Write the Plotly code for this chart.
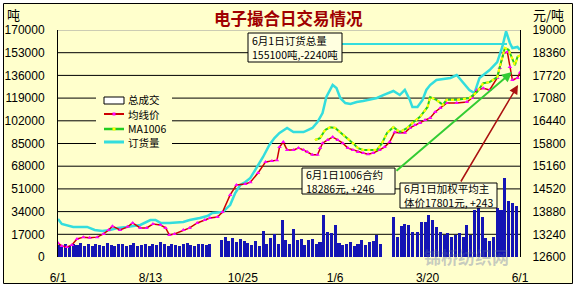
import plotly.graph_objects as go

# ---------------- data ----------------
# x positions are calendar-day offsets from 2009-06-01
x_tick_days = [0, 73, 146, 219, 292, 365]
x_tick_text = ["6/1", "8/13", "10/25", "1/6", "3/20", "6/1"]

left_ticks = [0, 17000, 34000, 51000, 68000, 85000, 102000, 119000, 136000, 153000, 170000]
right_ticks = [12600, 13240, 13880, 14520, 15160, 15800, 16440, 17080, 17720, 18360, 19000]

legend_labels = ["总成交", "均线价", "MA1006", "订货量"]

# 订货量 (tons, left axis)
orders_day = [0, 3, 12, 23, 29, 35, 41, 47, 54, 65,
              73, 77, 81, 88, 99, 104, 112, 118, 122, 130,
              136, 140, 144, 148, 152, 157, 162, 167, 171, 175,
              181, 186, 194, 201, 205, 209, 212, 217, 220, 223,
              227, 231, 236, 241, 246, 252, 257, 261, 265, 270,
              274, 278, 280, 284, 288, 291, 294, 299, 304, 310,
              315, 320, 325, 329, 333, 337, 341, 347, 351, 354,
              357, 359, 363, 365]
orders = [28500, 24700, 22500, 22500, 20200, 19500, 20200, 21700, 22500, 24000,
          27700, 27700, 25500, 25500, 26200, 27700, 29200, 30700, 33000, 33700,
          38900, 47900, 53900, 56200, 59200, 66700, 74900, 83900, 89100, 92900,
          96600, 93600, 93600, 96600, 101100, 107800, 119800, 128800, 126600, 119100,
          115300, 114600, 116100, 116800, 117600, 119100, 121300, 122800, 124300, 121300,
          125100, 117600, 112300, 112300, 117600, 125100, 128800, 132600, 133300, 134100,
          136300, 131100, 125100, 122800, 134100, 137000, 140000, 146000, 157300, 169000,
          160300, 156500, 157300, 155100]

# 均线价 (yuan/ton, right axis)
price_day = [0, 3, 7, 11, 15, 20, 25, 31, 36, 40,
             43, 49, 55, 59, 65, 70, 75, 81, 85, 88,
             92, 99, 104, 110, 116, 120, 126, 130, 136, 141,
             148, 152, 158, 164, 169, 173, 175, 178, 181, 186,
             190, 194, 197, 201, 205, 207, 209, 213, 217, 221,
             225, 229, 233, 237, 241, 245, 249, 254, 258, 262,
             266, 270, 274, 278, 282, 286, 290, 294, 298, 302,
             307, 315, 323, 327, 331, 336, 341, 347, 349, 352,
             355, 357, 359, 363, 365]
price = [12995, 12910, 12880, 12940, 13110, 13160, 13140, 13160, 13250, 13360,
         13470, 13360, 13450, 13560, 13420, 13420, 13530, 13500, 13420, 13220,
         13250, 13360, 13420, 13560, 13640, 13700, 13730, 13870, 14350, 14630,
         14660, 14710, 14970, 15280, 15310, 15330, 15700, 15840, 15620, 15620,
         15670, 15620, 15560, 15480, 15480, 15670, 15810, 15900, 15980, 15900,
         15810, 15670, 15620, 15560, 15530, 15500, 15530, 15620, 15700, 15840,
         16120, 16100, 16100, 16240, 16320, 16380, 16460, 16520, 16690, 16800,
         16940, 16940, 16970, 17080, 17310, 17360, 17310, 17650, 17930, 18350,
         18380, 17960, 17590, 17650, 17801]

# MA1006 (yuan/ton, right axis)
ma_day = [203, 207, 211, 215, 219, 223, 228, 233, 237, 241,
          246, 252, 256, 260, 265, 270, 276, 280, 286, 292,
          294, 299, 304, 307, 315, 321, 325, 331, 336, 341,
          347, 349, 353, 356, 359, 361, 363, 365]
ma = [15900, 15950, 16180, 16260, 16240, 16120, 15980, 15810, 15670, 15620,
      15620, 15620, 15810, 16100, 16260, 16120, 16240, 16380, 16550, 16830,
      17110, 17030, 16890, 17030, 17030, 17050, 17080, 17250, 17500, 17530,
      17670, 17960, 18490, 18440, 18150, 18010, 18240, 18286]

# 总成交 (tons, left axis)
vol_day = [0, 3, 6, 9, 12, 15, 18, 21, 24, 27, 30, 33, 36, 39, 42, 45, 48, 51, 54, 57,
           60, 63, 66, 69, 72, 75, 78, 81, 84, 87, 90, 93, 96, 99, 102, 105, 108, 111, 114, 117,
           120,
           129, 132, 135, 138, 141, 144, 147, 150,
           153, 156, 159, 162, 165, 168, 171, 174, 177, 180, 183, 186, 189, 192, 195, 198, 201,
           204, 207, 210, 213, 216, 219, 222, 225, 228, 231, 234, 237, 240, 243, 246, 249, 252, 255,
           265, 268, 271, 274, 277, 280, 284, 287, 290, 293, 296, 299, 302, 305, 308, 311, 314,
           317, 320, 323, 326, 329, 332, 335, 338, 341, 344, 347, 350, 353, 356, 359, 362]
vol = [9000, 8500, 10000, 8000, 9500, 9000, 10500, 8000, 9500, 8500, 10000, 9000, 8000, 10500, 9000, 8500, 10000, 9500, 8000, 9000,
       10500, 8500, 9000, 9500, 8000, 10000, 9000, 11000, 9500, 8500, 10000, 9000, 8000, 9500, 10500, 9000, 8500, 9500, 10000, 9000,
       9500,
       13000, 15000, 12000, 14500, 11500, 13500, 12000, 10500,
       9000, 12000, 8500, 19500, 10000, 14000, 17000, 9500, 27700, 13000, 10000, 21000, 12500, 13500, 9000, 13000, 13500,
       9500, 11000, 31500, 18700, 18000, 24000, 10500, 9000, 9800, 11000, 8000, 10000, 12700, 9000, 11000, 12000, 16500, 10000,
       30000, 15000, 23000, 24500, 24000, 18700, 18700, 26200, 26000, 31500, 27700, 22500, 18700, 16500, 18000, 15000, 16500,
       18000, 15000, 24000, 16500, 35200, 36700, 30000, 14000, 12000, 15000, 36700, 35200, 59000, 42000, 40500, 38000]

# ---------------- layout helpers ----------------
W, H = 577, 288
L, R, T, B = 58, 520, 30, 257
BG = "#FFFFCC"
CJK = "Noto Sans CJK SC"
NUM = "Arial, Liberation Sans"


def px(x):
    return (x - L) / (R - L)


def py(y):
    return (B - y) / (B - T)


fig = go.Figure()
fig.add_trace(go.Bar(x=vol_day, y=vol, width=2.4, yaxis="y",
                     marker=dict(color="#1414B4", line=dict(width=0)),
                     hoverinfo="skip", showlegend=False))
fig.add_trace(go.Scatter(x=price_day, y=price, yaxis="y2", mode="lines+markers",
                         line=dict(color="#CC0000", width=1.5),
                         marker=dict(symbol="triangle-up", size=4, color="#FF00FF"),
                         showlegend=False))
fig.add_trace(go.Scatter(x=ma_day, y=ma, yaxis="y2", mode="lines",
                         line=dict(color="#22CC22", width=2), showlegend=False))
fig.add_trace(go.Scatter(x=ma_day, y=ma, yaxis="y2", mode="lines",
                         line=dict(color="#FFFF00", width=2.2, dash="dot"), showlegend=False))
fig.add_trace(go.Scatter(x=orders_day, y=orders, yaxis="y", mode="lines",
                         line=dict(color="#33DDDD", width=2.5), showlegend=False))

shapes = []
# outer frame
shapes.append(dict(type="rect", xref="paper", yref="paper", layer="below",
                   x0=px(3.5), x1=px(572.5), y0=py(283.5), y1=py(3.5),
                   fillcolor=BG, line=dict(color="black", width=1)))
# grid lines
for v in left_ticks[1:]:
    shapes.append(dict(type="line", xref="paper", yref="y", layer="below",
                       x0=0, x1=1, y0=v, y1=v,
                       line=dict(color="#999999" if v == left_ticks[-1] else "black", width=1)))
# legend background
shapes.append(dict(type="rect", xref="paper", yref="paper", layer="below",
                   x0=px(96), x1=px(172), y0=py(150), y1=py(92),
                   fillcolor=BG, line=dict(width=0)))
# legend swatches
shapes.append(dict(type="rect", xref="paper", yref="paper", x0=px(104), x1=px(124),
                   y0=py(104), y1=py(97), fillcolor="white", line=dict(color="black", width=1)))
shapes.append(dict(type="line", xref="paper", yref="paper", x0=px(104), x1=px(124),
                   y0=py(114), y1=py(114), line=dict(color="#CC0000", width=2)))
shapes.append(dict(type="rect", xref="paper", yref="paper", x0=px(112.5), x1=px(115.5),
                   y0=py(115.5), y1=py(112.5), fillcolor="#FF00FF", line=dict(width=0)))
shapes.append(dict(type="line", xref="paper", yref="paper", x0=px(104), x1=px(124),
                   y0=py(129), y1=py(129), line=dict(color="#22CC22", width=2.5)))
shapes.append(dict(type="rect", xref="paper", yref="paper", x0=px(112.5), x1=px(115.5),
                   y0=py(130.5), y1=py(127.5), fillcolor="#FFFF00", line=dict(width=0)))
shapes.append(dict(type="line", xref="paper", yref="paper", x0=px(104), x1=px(124),
                   y0=py(142), y1=py(142), line=dict(color="#33DDDD", width=3)))
# callout boxes
shapes.append(dict(type="line", xref="paper", yref="paper", x0=px(342), x1=px(507),
                   y0=py(44), y1=py(44), line=dict(color="#33DDDD", width=2)))
for (x0, x1, y0, y1) in [(248, 342, 33, 62), (302, 395, 168, 194), (400, 497, 183, 208)]:
    shapes.append(dict(type="rect", xref="paper", yref="paper", x0=px(x0), x1=px(x1),
                       y0=py(y1), y1=py(y0), fillcolor="#FFFFE0",
                       line=dict(color="black", width=1)))

ann = []
ann.append(dict(text="<b>电子撮合日交易情况</b>", x=px(288), y=py(18), xref="paper", yref="paper",
                showarrow=False, xanchor="center", yanchor="middle",
                font=dict(family=CJK, size=16.5, color="#A00000")))
ann.append(dict(text="吨", x=px(5), y=py(15), xref="paper", yref="paper", showarrow=False,
                xanchor="left", yanchor="middle", font=dict(family=CJK, size=13, color="black")))
ann.append(dict(text="元/吨", x=px(531), y=py(15), xref="paper", yref="paper", showarrow=False,
                xanchor="left", yanchor="middle", font=dict(family=CJK, size=13, color="black")))
# legend labels
for label, yy in zip(legend_labels, [100, 114.3, 128.6, 142.9]):
    ann.append(dict(text=label, x=px(127), y=py(yy), xref="paper", yref="paper",
                    showarrow=False, xanchor="left", yanchor="middle", borderpad=0,
                    font=dict(family=CJK, size=10.5, color="black")))
for text, x0, yc in [("6月1日订货总量<br>155100吨,-2240吨", 250, 47.5),
                     ("6月1日1006合约<br>18286元, +246", 304, 181),
                     ("6月1日加权平均主<br>体价17801元, +243", 402, 195.5)]:
    ann.append(dict(text=text, x=px(x0), y=py(yc), xref="paper", yref="paper", showarrow=False,
                    xanchor="left", yanchor="middle", align="left",
                    font=dict(family=CJK, size=10.5, color="black")))
# arrows
ann.append(dict(text="", x=px(512), y=py(72), xref="paper", yref="paper", showarrow=True,
                ax=395 - 512, ay=172 - 72, axref="pixel", ayref="pixel",
                arrowcolor="#33CC33", arrowwidth=2, arrowhead=2, arrowsize=1))
ann.append(dict(text="", x=px(518), y=py(85), xref="paper", yref="paper", showarrow=True,
                ax=460 - 518, ay=183 - 85, axref="pixel", ayref="pixel",
                arrowcolor="#AA1111", arrowwidth=1.5, arrowhead=2, arrowsize=1.2))
# watermark (kept above the tick labels)
ann.append(dict(text="<b>锦桥纺织网</b>", x=px(466), y=py(256), xref="paper", yref="paper",
                showarrow=False, xanchor="center", yanchor="middle",
                font=dict(family=CJK, size=17, color="rgba(90,105,165,0.35)")))

fig.update_layout(
    width=W, height=H, autosize=False,
    margin=dict(l=L, r=W - R, t=T, b=H - B, pad=0),
    paper_bgcolor="white", plot_bgcolor=BG,
    showlegend=False, bargap=0,
    xaxis=dict(range=[0, 365], tickvals=x_tick_days, ticktext=x_tick_text, automargin=False,
               showgrid=False, zeroline=False, showline=False, ticks="",
               ticklabelstandoff=12, tickfont=dict(family=NUM, size=12, color="black")),
    yaxis=dict(range=[0, 170000], tickvals=left_ticks, ticktext=[str(v) for v in left_ticks],
               automargin=False,
               showgrid=False, zeroline=False, showline=True, linecolor="black", linewidth=1,
               ticks="", ticklabelstandoff=10, tickfont=dict(family=NUM, size=12, color="black")),
    yaxis2=dict(range=[12600, 19000], tickvals=right_ticks, ticktext=[str(v) for v in right_ticks],
                overlaying="y", side="right", showgrid=False, zeroline=False, showline=True,
                automargin=False,
                linecolor="black", linewidth=1, ticks="", ticklabelstandoff=9,
                tickfont=dict(family=NUM, size=12, color="black")),
    shapes=shapes, annotations=ann,
)

fig.write_html("out.html", config={"displayModeBar": False})
